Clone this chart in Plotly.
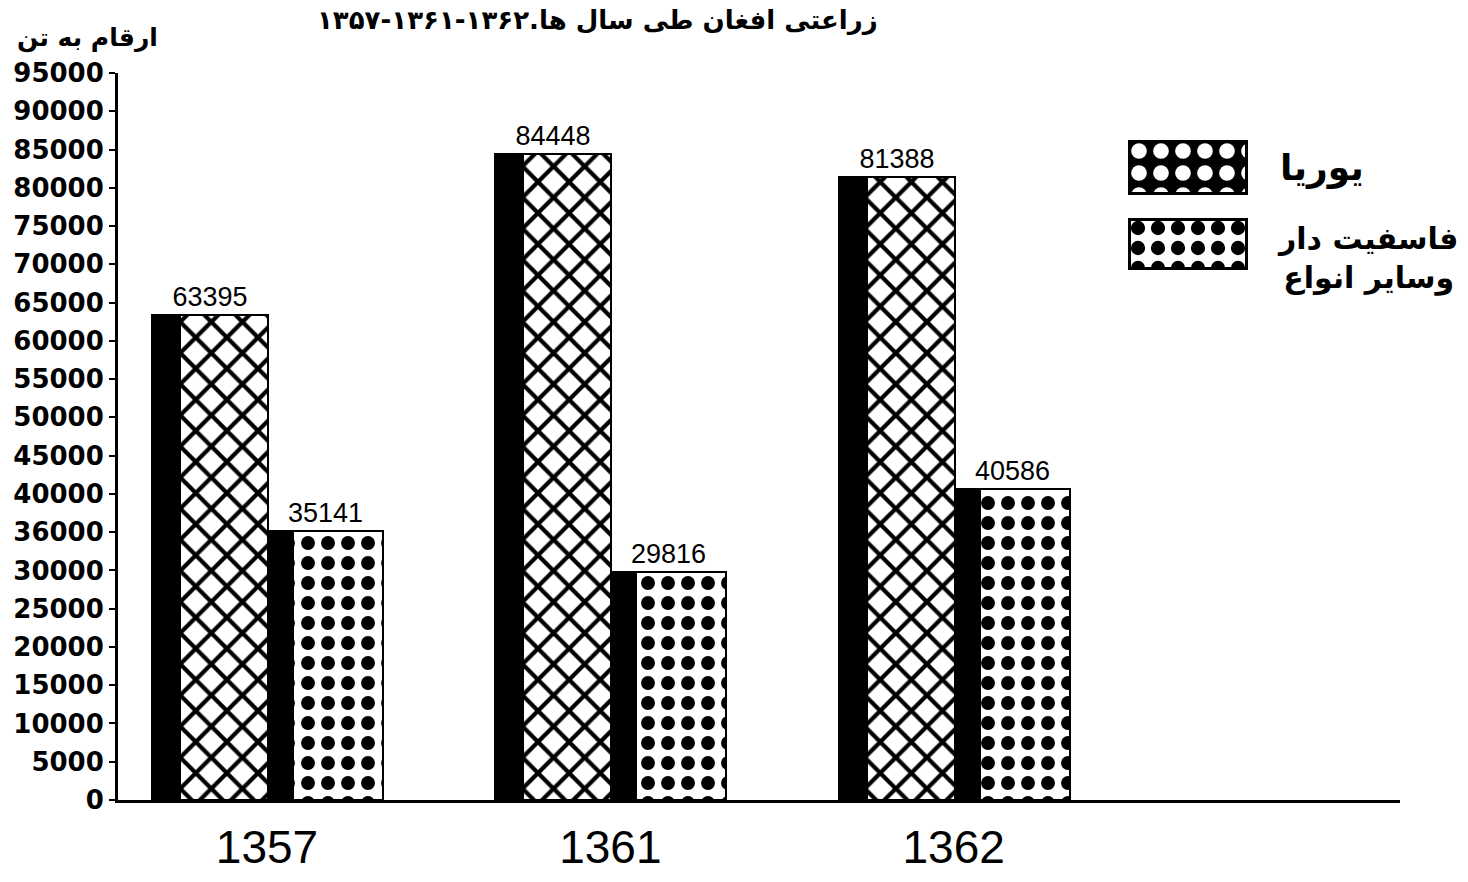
import plotly.graph_objects as go

# ---- data ----
years = ["1357", "1361", "1362"]
urea = [63395, 84448, 81388]
phosphate = [35141, 29816, 40586]
urea_name = "یوریا"
phos_name = "فاسفیت دار<br>وسایر انواع"
y_tick_vals = list(range(0, 95001, 5000))
y_tick_text = ["0", "5000", "10000", "15000", "20000", "25000", "30000", "36000",
               "40000", "45000", "50000", "55000", "60000", "65000", "70000",
               "75000", "80000", "85000", "90000", "95000"]
title_text = "\u202bزراعتی افغان طی سال ها.۱۳۶۲-۱۳۶۱-۱۳۵۷\u202c"
y_label = "ارقام به تن"
legend_key_len = [1]

# ---- layout geometry (pixels) ----
W, H = 1468, 882
L, R, T, B = 118, 68, 73, 82
PW, PH = W - L - R, H - T - B

def px_x(p):
    return (p - L) / PW

def px_y(p):
    return (H - B - p) / PH

xpos = [0, 1, 2]
FONT = "DejaVu Sans"
NUMFONT = "Liberation Sans"

fig = go.Figure()

# dark "side" of each bar (3D depth) with value labels
fig.add_trace(go.Bar(
    x=xpos, y=urea, offset=-0.335, width=0.338,
    marker=dict(color="black", line=dict(color="black", width=2)),
    text=[str(v) for v in urea], textposition="outside",
    textfont=dict(family=NUMFONT, size=27, color="black"),
    cliponaxis=False, showlegend=False, hoverinfo="skip"))
fig.add_trace(go.Bar(
    x=xpos, y=urea, offset=-0.253, width=0.256, name=urea_name,
    showlegend=False, hoverinfo="skip",
    marker=dict(color="white", line=dict(color="black", width=2),
                pattern=dict(shape="x", size=22, solidity=0.35,
                             fgcolor="black", bgcolor="white", fillmode="replace"))))
fig.add_trace(go.Bar(
    x=xpos, y=phosphate, offset=0.003, width=0.335,
    marker=dict(color="black", line=dict(color="black", width=2)),
    text=[str(v) for v in phosphate], textposition="outside",
    textfont=dict(family=NUMFONT, size=27, color="black"),
    cliponaxis=False, showlegend=False, hoverinfo="skip"))
fig.add_trace(go.Bar(
    x=xpos, y=phosphate, offset=0.076, width=0.262, name=phos_name,
    showlegend=False, hoverinfo="skip",
    marker=dict(color="white", line=dict(color="black", width=2),
                pattern=dict(shape=".", size=20, solidity=0.38,
                             fgcolor="black", bgcolor="white", fillmode="replace"))))

# legend keys (large swatches, as in the original) on auxiliary axes
fig.add_trace(go.Bar(
    y=["k"], x=legend_key_len, orientation="h", xaxis="x2", yaxis="y2",
    width=1, showlegend=False, hoverinfo="skip",
    marker=dict(color="black", line=dict(color="black", width=5),
                pattern=dict(shape=".", size=22, solidity=0.4,
                             fgcolor="white", bgcolor="black", fillmode="replace"))))
fig.add_trace(go.Bar(
    y=["k"], x=legend_key_len, orientation="h", xaxis="x3", yaxis="y3",
    width=1, showlegend=False, hoverinfo="skip",
    marker=dict(color="white", line=dict(color="black", width=6),
                pattern=dict(shape=".", size=20, solidity=0.4,
                             fgcolor="black", bgcolor="white", fillmode="replace"))))

fig.update_layout(
    width=W, height=H,
    margin=dict(l=L, r=R, t=T, b=B, autoexpand=False),
    paper_bgcolor="white", plot_bgcolor="white",
    barmode="overlay",
    font=dict(family=FONT, color="black"),
    showlegend=False,
    xaxis=dict(range=[-0.434, 3.30], tickvals=xpos, ticktext=years,
               showgrid=False, zeroline=False, showline=True, linecolor="black",
               linewidth=3, ticks="", ticklabelstandoff=5,
               tickfont=dict(family=NUMFONT, size=46, color="black")),
    yaxis=dict(range=[0, 95000], tickvals=y_tick_vals, ticktext=y_tick_text,
               showgrid=False, zeroline=False, showline=True, linecolor="black",
               linewidth=3, ticks="outside", ticklen=6, tickwidth=2,
               tickcolor="black",
               tickfont=dict(family=FONT, size=26, color="black", weight="bold")),
    xaxis2=dict(domain=[px_x(1128), px_x(1248)], range=[0, 1], anchor="y2",
                visible=False, fixedrange=True),
    yaxis2=dict(domain=[px_y(195), px_y(140)], anchor="x2",
                visible=False, fixedrange=True),
    xaxis3=dict(domain=[px_x(1128), px_x(1248)], range=[0, 1], anchor="y3",
                visible=False, fixedrange=True),
    yaxis3=dict(domain=[px_y(270), px_y(218)], anchor="x3",
                visible=False, fixedrange=True),
    bargap=0,
)

fig.add_annotation(text=title_text, xref="paper", yref="paper",
                   x=px_x(880), y=px_y(20), xanchor="right", yanchor="middle",
                   showarrow=False,
                   font=dict(family=FONT, size=26, color="black", weight="bold"))
fig.add_annotation(text=y_label, xref="paper", yref="paper",
                   x=px_x(160), y=px_y(38), xanchor="right", yanchor="middle",
                   showarrow=False,
                   font=dict(family=FONT, size=25, color="black", weight="bold"))
fig.add_annotation(text=urea_name, xref="paper", yref="paper",
                   x=px_x(1322), y=px_y(168), xanchor="center", yanchor="middle",
                   showarrow=False,
                   font=dict(family=FONT, size=36, color="black", weight="bold"))
fig.add_annotation(text=phos_name, xref="paper", yref="paper",
                   x=px_x(1367), y=px_y(258), xanchor="center", yanchor="middle",
                   showarrow=False,
                   font=dict(family=FONT, size=30, color="black", weight="bold"))

fig.write_html("out.html", config={"displayModeBar": False},
               post_script="document.body.style.margin='0';document.body.style.overflow='hidden';")
